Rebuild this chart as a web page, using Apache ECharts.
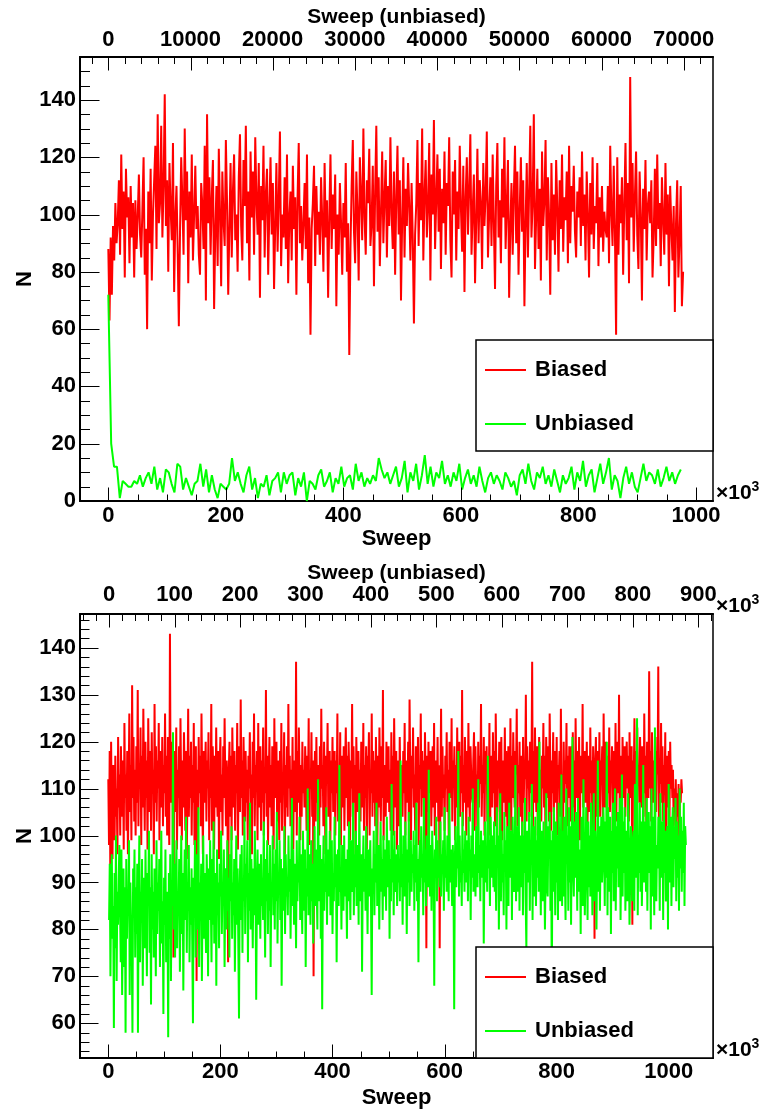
<!DOCTYPE html>
<html><head><meta charset="utf-8">
<script src="https://cdn.jsdelivr.net/npm/echarts@6/dist/echarts.min.js"></script>
<style>html,body{margin:0;padding:0;background:#fff}#c{width:767px;height:1112px}</style>
</head><body><div id="c"></div>
<script>
// ---------- DATA ----------
const topBiasedStep = 2.0;   // Sweep (x10^3) between samples
const topBiased = [
88,63,92,72,96,84,104,90,97,112,86,121,95,108,78,116,99,106,83,110,
92,104,78,105,88,99,114,93,85,102,120,79,95,60,108,90,116,77,100,112,
124,88,135,97,104,131,92,110,142,96,112,80,118,102,91,125,73,99,110,87,
61,94,120,105,86,130,98,115,76,108,92,121,84,100,117,95,103,86,79,111,
103,88,124,70,135,97,113,86,106,119,67,94,110,82,123,101,75,115,98,89,
126,104,72,96,118,85,108,121,91,100,80,113,128,96,84,119,103,131,90,108,
77,122,99,115,86,127,105,93,118,71,110,98,124,85,107,116,79,102,120,93,
111,74,96,118,87,105,129,82,100,92,113,88,121,76,99,108,84,117,95,106,
72,106,125,90,103,84,97,111,88,121,76,99,58,95,104,117,82,110,93,101,
86,113,98,80,118,92,105,71,99,121,88,107,95,114,68,100,86,111,97,79,
104,92,118,80,97,51,88,110,126,94,83,115,101,77,120,107,91,130,99,86,
112,104,123,89,97,117,75,108,131,94,113,82,101,122,90,106,119,85,110,96,
127,100,88,115,79,106,124,93,112,70,98,120,85,109,96,118,103,84,111,92,
62,93,104,126,89,111,98,130,84,107,119,92,103,125,77,114,100,133,88,105,
121,94,116,81,109,97,122,86,111,103,127,91,78,115,100,119,84,108,95,124,
102,87,117,73,106,120,93,109,128,86,101,114,76,98,123,90,112,104,81,118,
96,107,129,85,100,113,89,121,97,74,110,125,92,105,83,116,99,127,88,103,
119,71,95,111,86,107,124,90,115,79,101,120,94,112,68,97,118,85,108,131,
92,104,135,81,99,116,88,109,77,122,96,105,126,84,113,99,72,118,91,107,
86,119,102,80,112,95,121,87,106,98,115,83,124,90,110,101,117,94,85,108,
99,113,89,122,96,107,84,115,100,78,111,93,120,88,103,97,118,82,106,92,
110,87,101,95,92,110,83,124,101,89,117,94,58,120,86,107,97,113,79,104,
125,91,111,76,148,99,118,87,106,122,93,81,115,100,70,109,95,119,84,103,
108,97,112,78,92,116,89,121,95,104,82,113,99,86,118,93,107,75,110,96,
84,103,66,97,112,78,92,110,68,80
];
const topUnbiasedStep = 350;  // Sweep (unbiased) between samples
const topUnbiased = [
72,20,12,12,1,7,6,5,5,7,6,9,5,8,10,6,12,4,8,3,
11,10,6,3,13,12,4,8,5,2,6,7,13,5,11,3,9,4,1,6,
5,4,6,15,7,10,6,3,9,12,4,8,1,6,5,9,2,7,8,10,
3,10,6,9,10,2,8,5,10,0,7,6,4,9,11,5,7,10,3,8,
6,12,5,8,9,4,13,7,10,5,8,6,9,7,15,11,8,10,6,9,
12,5,8,14,3,10,7,13,4,9,16,6,12,5,10,8,14,6,9,5,
10,7,13,4,8,11,6,9,5,12,7,3,8,10,6,9,7,4,10,8,
5,7,2,9,11,6,13,7,4,10,8,12,6,9,5,11,7,3,9,6,
8,12,4,10,7,14,5,9,11,3,8,13,6,10,15,4,9,7,1,8,
12,6,10,5,3,8,13,7,10,9,6,11,5,8,12,7,10,6,9,11
];
const bottomBiasedStep = 1.25;  // Sweep (x10^3)
const bottomBiased = [
112,98,118,88,120,103,95,115,108,99,117,104,110,96,121,106,113,100,119,109,
104,116,97,124,108,113,101,118,96,110,126,105,115,99,132,108,121,103,114,100,
119,107,131,102,115,110,123,98,117,106,127,112,101,120,108,116,97,125,111,105,
118,101,122,109,114,96,128,107,119,103,116,110,124,99,113,118,106,121,102,115,
109,126,104,117,100,121,112,98,143,107,115,120,103,74,118,111,105,123,97,114,
108,119,102,125,111,99,116,106,122,113,101,118,95,110,127,104,117,108,120,100,
115,107,124,98,112,119,69,114,105,121,109,117,102,126,111,96,118,107,113,120,
103,116,110,122,99,114,108,128,101,119,112,97,117,106,123,110,104,118,95,115,
121,105,113,100,119,108,125,111,102,116,109,73,114,120,104,117,99,123,112,106,
118,101,115,109,124,97,112,119,105,129,108,116,100,121,110,103,118,107,114,99,
117,110,122,104,113,96,120,108,126,102,115,111,118,99,124,106,112,119,101,116,
107,123,100,114,109,131,104,117,98,112,121,106,115,102,119,110,97,125,108,113,
120,103,116,111,99,118,107,124,101,113,109,122,96,115,106,119,104,128,110,117,
102,114,108,121,97,116,111,105,137,100,118,107,123,112,99,115,104,120,109,114,
106,119,113,101,117,108,125,98,114,110,122,104,116,70,111,118,103,121,107,115,
112,100,119,106,127,110,115,102,120,108,96,117,111,124,104,113,118,99,116,109,
121,105,113,118,100,116,109,126,103,114,107,122,98,117,111,106,119,101,115,123,
108,117,102,120,113,99,116,110,128,104,119,107,115,96,121,112,105,118,109,114,
103,120,111,106,124,101,115,108,119,97,117,113,122,100,114,109,126,104,118,107,
116,102,121,110,98,117,106,123,112,103,119,108,131,99,115,111,104,120,107,113,
119,105,114,101,122,109,117,100,125,111,106,118,97,116,113,102,121,108,115,110,
104,118,109,124,100,116,112,107,120,103,129,114,99,117,110,123,106,113,101,119,
112,107,121,98,115,110,126,104,118,108,116,101,122,111,76,117,105,120,109,114,
118,102,113,119,106,124,100,116,111,107,121,103,115,76,110,127,104,119,108,113,
101,117,110,122,105,114,98,120,112,108,125,103,116,111,119,99,115,106,123,109,
114,120,104,117,109,131,102,115,107,121,112,100,118,106,124,110,103,119,113,108,
107,116,122,101,119,110,113,97,120,106,117,111,128,104,115,109,121,100,118,112,
119,103,115,108,124,100,117,112,106,122,109,118,102,126,113,98,116,110,120,105,
113,121,99,116,111,107,123,104,118,110,96,119,114,105,125,101,117,108,122,112,
106,118,113,127,102,115,109,120,104,117,111,99,121,107,116,112,130,103,119,110,
116,104,120,109,113,137,101,118,107,123,111,105,119,100,115,121,108,114,103,117,
110,124,106,117,99,121,112,108,119,103,126,114,101,116,109,122,105,118,111,107,
121,100,115,112,118,104,127,109,113,97,120,107,116,111,124,102,117,108,119,114,
103,119,110,122,106,116,101,125,112,108,118,104,121,99,114,117,109,128,106,115,
118,107,113,120,102,117,111,105,123,109,116,100,119,112,78,115,121,104,118,110,
108,122,104,116,113,119,101,126,110,106,120,114,98,117,109,123,105,116,112,119,
101,118,112,107,124,103,115,120,109,130,105,117,111,99,121,113,108,119,104,116,
120,110,117,103,122,108,114,119,81,116,112,125,106,118,101,123,111,115,107,121,
113,106,119,112,104,126,109,117,102,120,115,108,135,110,118,103,122,114,107,116,
109,121,105,118,113,136,100,116,111,124,107,119,103,115,110,122,86,117,112,106,
118,103,120,110,115,108,114,102,110,105,112,100,109,104,111,98,110,107,112,109
];
const bottomUnbiasedStep = 1.05;  // Sweep (unbiased, x10^3)
const bottomUnbiased = [
82,94,70,88,96,78,85,59,92,76,100,69,88,81,91,98,84,73,97,66,
80,93,72,89,58,95,78,87,84,99,66,90,81,76,58,93,85,97,74,89,
79,94,58,86,100,73,88,82,95,68,87,91,76,97,83,70,92,85,101,75,
89,64,96,80,88,74,93,85,70,99,79,90,84,95,72,88,101,77,86,62,
91,81,97,73,88,84,57,92,78,96,69,89,85,122,80,94,74,90,99,76,
88,83,95,71,87,100,79,92,67,86,97,82,104,75,90,84,98,73,89,81,
93,77,60,91,85,99,74,88,96,80,106,72,90,83,94,69,87,100,78,92,
84,75,96,88,70,93,82,99,86,73,95,81,103,77,89,92,68,97,83,90,
76,94,87,101,79,90,85,97,72,88,93,80,99,84,91,74,96,86,102,78,
90,83,95,71,88,100,81,93,77,61,89,96,82,98,75,91,86,104,79,94,
87,99,73,92,84,107,80,95,88,76,93,83,101,90,65,86,97,81,94,89,
78,96,85,91,82,103,88,74,95,86,99,79,92,84,98,72,90,87,100,83,
94,80,97,86,105,77,91,88,99,82,95,68,89,93,84,102,79,96,87,91,
83,100,88,95,78,92,108,85,97,81,94,89,76,99,86,93,90,104,82,96,
88,79,101,91,84,97,72,93,87,110,83,96,90,81,99,86,94,77,92,102,
85,97,89,80,112,91,86,98,78,95,63,90,100,84,93,88,106,81,97,90,
87,101,83,94,99,79,92,86,104,89,96,73,91,97,85,115,88,93,80,98,
92,84,100,87,95,90,78,97,86,103,91,82,99,94,88,107,83,96,89,101,
85,93,98,81,109,90,86,96,71,92,100,88,95,84,102,91,79,97,87,94,
99,86,66,93,89,101,83,96,90,107,85,94,98,80,92,103,88,95,82,100,
91,87,97,84,104,93,89,99,78,95,86,111,90,97,83,101,92,88,96,85,
98,90,94,86,116,89,96,81,100,92,87,103,94,79,97,90,105,85,93,99,
88,96,92,101,84,98,90,107,86,95,73,94,99,88,102,91,96,83,108,90,
97,85,100,93,89,114,92,87,98,84,101,95,90,68,97,93,104,86,99,91,
94,89,103,87,96,92,99,84,106,91,95,88,100,93,86,109,90,97,94,85,
98,91,63,95,102,89,96,93,118,87,100,90,94,85,105,92,97,88,101,93,
90,99,86,104,93,97,82,100,91,110,88,96,94,87,102,95,89,112,92,98,
86,101,95,91,99,77,94,103,90,97,88,117,93,99,85,104,96,91,100,89,
103,88,98,84,106,95,100,80,97,109,86,101,90,96,83,105,94,99,80,102,
95,85,107,91,93,101,82,104,96,88,91,115,86,102,88,98,106,84,100,97,
89,103,83,100,92,108,86,76,101,90,93,105,84,99,95,111,82,102,96,87,
104,85,99,91,107,88,120,97,83,101,92,86,103,95,80,92,109,89,87,102,
97,105,84,99,66,101,88,106,98,83,103,90,100,82,107,95,86,93,113,85,
101,87,104,92,82,110,95,100,84,106,90,102,81,99,121,93,87,103,91,105,
98,84,108,95,88,97,79,104,92,85,112,96,83,91,106,98,82,103,89,100,
87,107,99,83,90,109,86,101,93,80,98,116,88,102,84,97,104,90,94,106,
100,85,103,91,120,83,106,99,88,104,79,101,92,107,86,100,110,84,102,93,
105,89,94,108,82,96,113,87,103,92,106,84,93,101,86,109,98,81,90,102,
99,86,96,101,84,111,91,104,125,83,100,92,107,88,103,85,96,115,90,95,
103,88,108,84,100,105,92,102,80,110,87,104,96,83,123,95,86,98,93,104,
100,84,109,91,94,103,82,107,92,101,86,97,102,80,111,90,96,104,85,101,
106,89,102,95,108,86,103,91,100,84,110,93,104,88,101,92,107,85,102,98
];
// Tick labels (majors)
const topSweepTicks = [0,200,400,600,800,1000];
const topUnbiasedTicks = [0,10000,20000,30000,40000,50000,60000,70000];
const topNTicks = [0,20,40,60,80,100,120,140];
const bottomSweepTicks = [0,200,400,600,800,1000];
const bottomUnbiasedTicks = [0,100,200,300,400,500,600,700,800,900];
const bottomNTicks = [60,70,80,90,100,110,120,130,140];
const seriesNames = ['Biased','Unbiased'];

// ---------- BUILD ----------
const FL = 80, FW = 633, FH = 444;
const FONT = '"Liberation Sans", Arial, Helvetica, sans-serif';
const txt = {color:'#000', fontFamily:FONT, fontWeight:'bold', fontSize:22};
const x103 = {
  ...txt, padding:[0,0,18,0],
  rich:{
    a:{color:'#000', fontFamily:FONT, fontWeight:'bold', fontSize:21, lineHeight:24, verticalAlign:'bottom'},
    b:{color:'#000', fontFamily:FONT, fontWeight:'bold', fontSize:14, lineHeight:14, verticalAlign:'top'}
  }
};
function pts(vals, step){ return vals.map((v,i)=>[Math.round(i*step*1000)/1000, v]); }
function minors(min, max, step){
  const r=[]; for(let v=Math.ceil(min/step-1e-9)*step; v<=max+1e-9; v+=step) r.push(Math.round(v*1000)/1000); return r;
}
const hid = {axisLine:{show:false}, axisTick:{show:false}, axisLabel:{show:false}, splitLine:{show:false}};
const grids=[], xAxes=[], yAxes=[], tickSeries=[];
const addG = g => (grids.push(g), grids.length-1);
const addX = a => (xAxes.push(a), xAxes.length-1);
const addY = a => (yAxes.push(a), yAxes.length-1);
const line = {show:true, onZero:false, lineStyle:{color:'#000', width:2}};
function labelAxis(gi, pos, ext, ticks, margin, name, gap, nameSize){
  return {type:'value', gridIndex:gi, position:pos, min:ext[0], max:ext[1],
    axisLine:line, axisTick:{show:false}, splitLine:{show:false}, minorTick:{show:false},
    axisLabel:{show:true, customValues:ticks, margin, formatter:v=>String(v), ...txt},
    name, nameLocation:'middle', nameGap:gap, nameMoveOverlap:false,
    nameTextStyle:{...txt, fontSize:nameSize}};
}
// ticks drawn through the axes' scales with a custom series
function ticks(xi, yi, vals, side, len, P){
  const data = vals.map(v => side==='left' ? [P.x[0], v] : [v, side==='bottom' ? P.y[0] : P.y[1]]);
  tickSeries.push({type:'custom', xAxisIndex:xi, yAxisIndex:yi, silent:true, clip:false, z:6,
    data, renderItem:(params, api) => {
      const p = api.coord([api.value(0), api.value(1)]);
      const x = Math.round(p[0])+0.5, y = Math.round(p[1])+0.5;
      const shape = side==='left' ? {x1:x, y1:y, x2:x+len, y2:y}
        : side==='bottom' ? {x1:x, y1:y, x2:x, y2:y-len} : {x1:x, y1:y, x2:x, y2:y+len};
      return {type:'line', shape, style:{stroke:'#000', lineWidth:1}};
    }});
}
function buildPanel(P){
  const top = P.top;
  const D = addG({left:FL, top, width:FW, height:FH, show:true, borderColor:'#000', borderWidth:1.5});
  const ix = addX(labelAxis(D,'bottom',P.x,P.xTicks,P.xMargin,'Sweep',P.sweepGap,22));
  const iu = addX(labelAxis(D,'top',P.u,P.uTicks,P.uMargin,'Sweep (unbiased)',P.unbGap,21));
  const iy = addY(labelAxis(D,'left',P.y,P.yTicks,4,'N',44,22));
  const E = addG({left:FL, top, width:FW, height:FH});
  addX({type:'value', gridIndex:E, position:'bottom', min:0, max:1, ...hid, name:'{a|×10}{b|3}', nameLocation:'end', nameGap:3, nameTextStyle:x103});
  addX({type:'value', gridIndex:E, position:'top', min:0, max:1, ...hid, name:P.uExp?'{a|×10}{b|3}':'', nameLocation:'end', nameGap:3, nameTextStyle:x103});
  addY({type:'value', gridIndex:E, min:0, max:1, ...hid});
  ticks(ix, iy, P.xTicks, 'bottom', P.xLen, P);
  ticks(ix, iy, minors(P.x[0], P.x[1], P.xStep), 'bottom', P.xLen/2, P);
  ticks(iu, iy, P.uTicks, 'top', P.uLen, P);
  ticks(iu, iy, minors(P.u[0], P.u[1], P.uStep), 'top', P.uLen/2, P);
  ticks(ix, iy, P.yTicks, 'left', P.yLen, P);
  ticks(ix, iy, minors(P.y[0], P.y[1], P.yStep), 'left', P.yLen/2, P);
  return {ix, iu, iy};
}
const A = buildPanel({top:57, x:[-48.2,1028.9], u:[-3443,73564], y:[0,155],
  xTicks:topSweepTicks, xStep:50, uTicks:topUnbiasedTicks, uStep:2000, yTicks:topNTicks, yStep:5,
  xLen:14, yLen:19, uLen:13, xMargin:4, uMargin:6, sweepGap:27, unbGap:29, uExp:false});
const B = buildPanel({top:614, x:[-50.5,1078.9], u:[-44.4,922.4], y:[52.6,147.2],
  xTicks:bottomSweepTicks, xStep:50, uTicks:bottomUnbiasedTicks, uStep:20, yTicks:bottomNTicks, yStep:2,
  xLen:14, yLen:18, uLen:13, xMargin:3, uMargin:8, sweepGap:29, unbGap:30, uExp:true});

function lineSeries(name, xi, yi, vals, step, color){
  return {name, type:'line', xAxisIndex:xi, yAxisIndex:yi, data:pts(vals, step), symbol:'none', showSymbol:false,
    lineStyle:{color, width:2}, itemStyle:{color}, clip:true, z:2};
}
const option = {
  animation:false,
  backgroundColor:'#fff',
  grid:grids, xAxis:xAxes, yAxis:yAxes,
  legend:[340, 947].map(t=>({
    data:seriesNames, orient:'vertical', left:476, top:t, icon:'rect', z:10,
    itemWidth:41, itemHeight:2, itemGap:32, padding:[19,79,16,9],
    backgroundColor:'#fff', borderColor:'#000', borderWidth:1.5, borderRadius:0,
    selectedMode:false, textStyle:{...txt, padding:[0,0,0,4]}
  })),
  series:[
    lineSeries('Biased', A.ix, A.iy, topBiased, topBiasedStep, '#ff0000'),
    lineSeries('Unbiased', A.iu, A.iy, topUnbiased, topUnbiasedStep, '#00ff00'),
    lineSeries('Biased', B.ix, B.iy, bottomBiased, bottomBiasedStep, '#ff0000'),
    lineSeries('Unbiased', B.iu, B.iy, bottomUnbiased, bottomUnbiasedStep, '#00ff00'),
    ...tickSeries
  ]
};
const chart = echarts.init(document.getElementById('c'), null, {renderer:'canvas'});
chart.setOption(option);
</script>
</body></html>
